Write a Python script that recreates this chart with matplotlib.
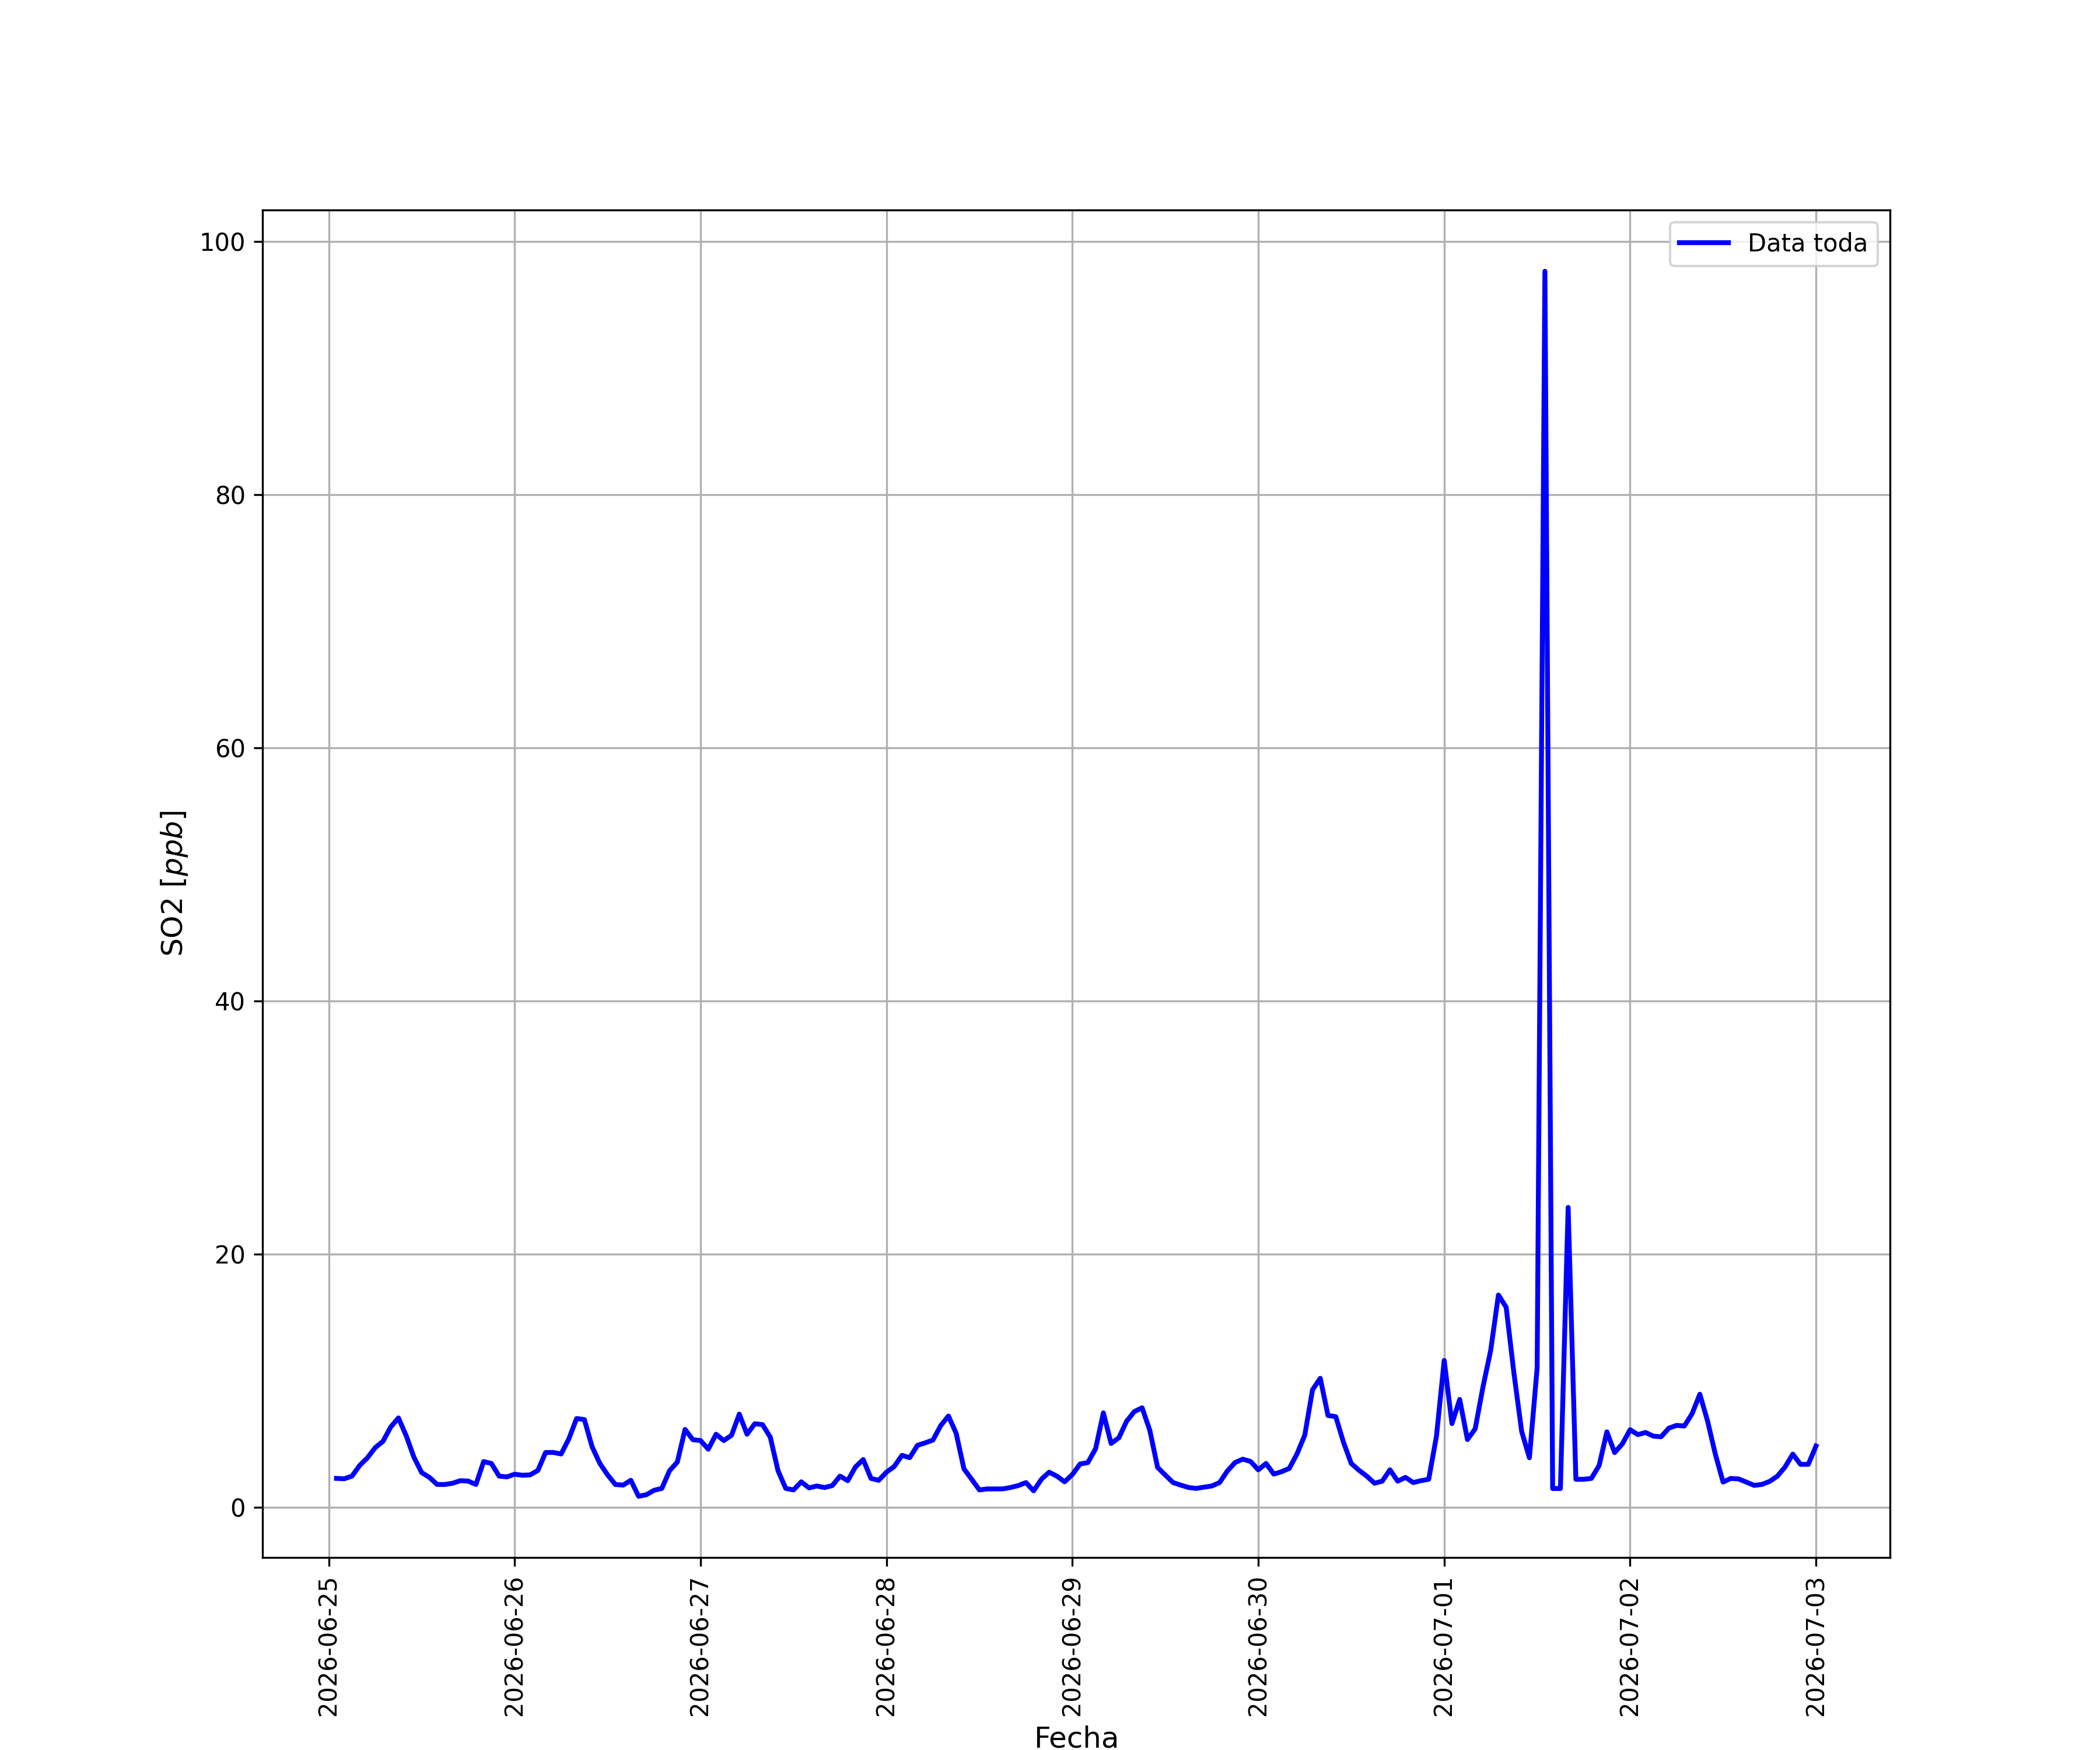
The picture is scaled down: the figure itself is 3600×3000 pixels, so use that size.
import matplotlib
matplotlib.use('Agg')
import matplotlib.pyplot as plt
import matplotlib.dates as mdates
import numpy as np
import pandas as pd

# hourly SO2 values, 2026-06-25 01:00 -> 2026-07-03 00:00
dia1 = [2.27, 2.24, 2.45, 3.30, 3.9, 4.7, 5.2, 6.33, 7.05, 5.64, 3.94, 2.73,
        2.35, 1.79, 1.79, 1.89, 2.09, 2.06, 1.79, 3.6, 3.45, 2.45, 2.39, 2.6]
dia2 = [2.52, 2.55, 2.9, 4.32, 4.32, 4.2, 5.4, 7.0, 6.92, 4.77, 3.45, 2.55,
        1.79, 1.74, 2.12, 0.86, 0.98, 1.33, 1.48, 2.88, 3.56, 6.14, 5.33, 5.26]
dia3 = [4.58, 5.76, 5.26, 5.68, 7.35, 5.76, 6.59, 6.52, 5.53, 2.88, 1.48, 1.36,
        2.0, 1.52, 1.67, 1.55, 1.7, 2.45, 2.09, 3.18, 3.76, 2.27, 2.12, 2.76]
dia4 = [3.21, 4.09, 3.91, 4.88, 5.08, 5.3, 6.44, 7.2, 5.83, 3.03, 2.2, 1.36,
        1.44, 1.44, 1.44, 1.55, 1.7, 1.94, 1.29, 2.2, 2.76, 2.45, 2.0, 2.58]
dia5 = [3.41, 3.52, 4.62, 7.45, 5.03, 5.48, 6.79, 7.55, 7.85, 6.06, 3.14, 2.53,
        1.94, 1.74, 1.55, 1.48, 1.58, 1.67, 1.94, 2.85, 3.52, 3.79, 3.61, 2.95]
dia6 = [3.45, 2.61, 2.8, 3.06, 4.21, 5.68, 9.27, 10.18, 7.24, 7.15, 5.12, 3.45,
        2.91, 2.45, 1.89, 2.05, 2.95, 2.05, 2.35, 1.94, 2.09, 2.2, 5.6, 11.59]
dia7 = [6.6, 8.51, 5.34, 6.19, 9.48, 12.38, 16.76, 15.79, 10.59, 5.98, 3.9, 11.01,
        97.65, 1.47, 1.47, 23.68, 2.2, 2.2, 2.27, 3.29, 5.95, 4.31, 5.0, 6.12]
dia8 = [5.73, 5.9, 5.61, 5.56, 6.24, 6.46, 6.41, 7.38, 8.92, 6.8, 4.19, 1.98,
        2.27, 2.23, 1.98, 1.72, 1.79, 2.03, 2.44, 3.17, 4.19, 3.38, 3.38, 4.83]

so2 = dia1 + dia2 + dia3 + dia4 + dia5 + dia6 + dia7 + dia8
fechas = pd.date_range('2026-06-25 01:00', periods=len(so2), freq='h')

fig, ax = plt.subplots(figsize=(12, 10))
ax.plot(fechas, so2, color='blue', linewidth=2, label='Data toda')

ax.xaxis.set_major_locator(mdates.DayLocator())
ax.xaxis.set_major_formatter(mdates.DateFormatter('%Y-%m-%d'))
plt.xticks(rotation=90)

ax.set_xlabel('Fecha', fontsize=12)
ax.set_ylabel('SO2 [$ppb$]', fontsize=12)
ax.grid(True)
ax.legend(loc='upper right')

fig.savefig('out.png', dpi=300)
